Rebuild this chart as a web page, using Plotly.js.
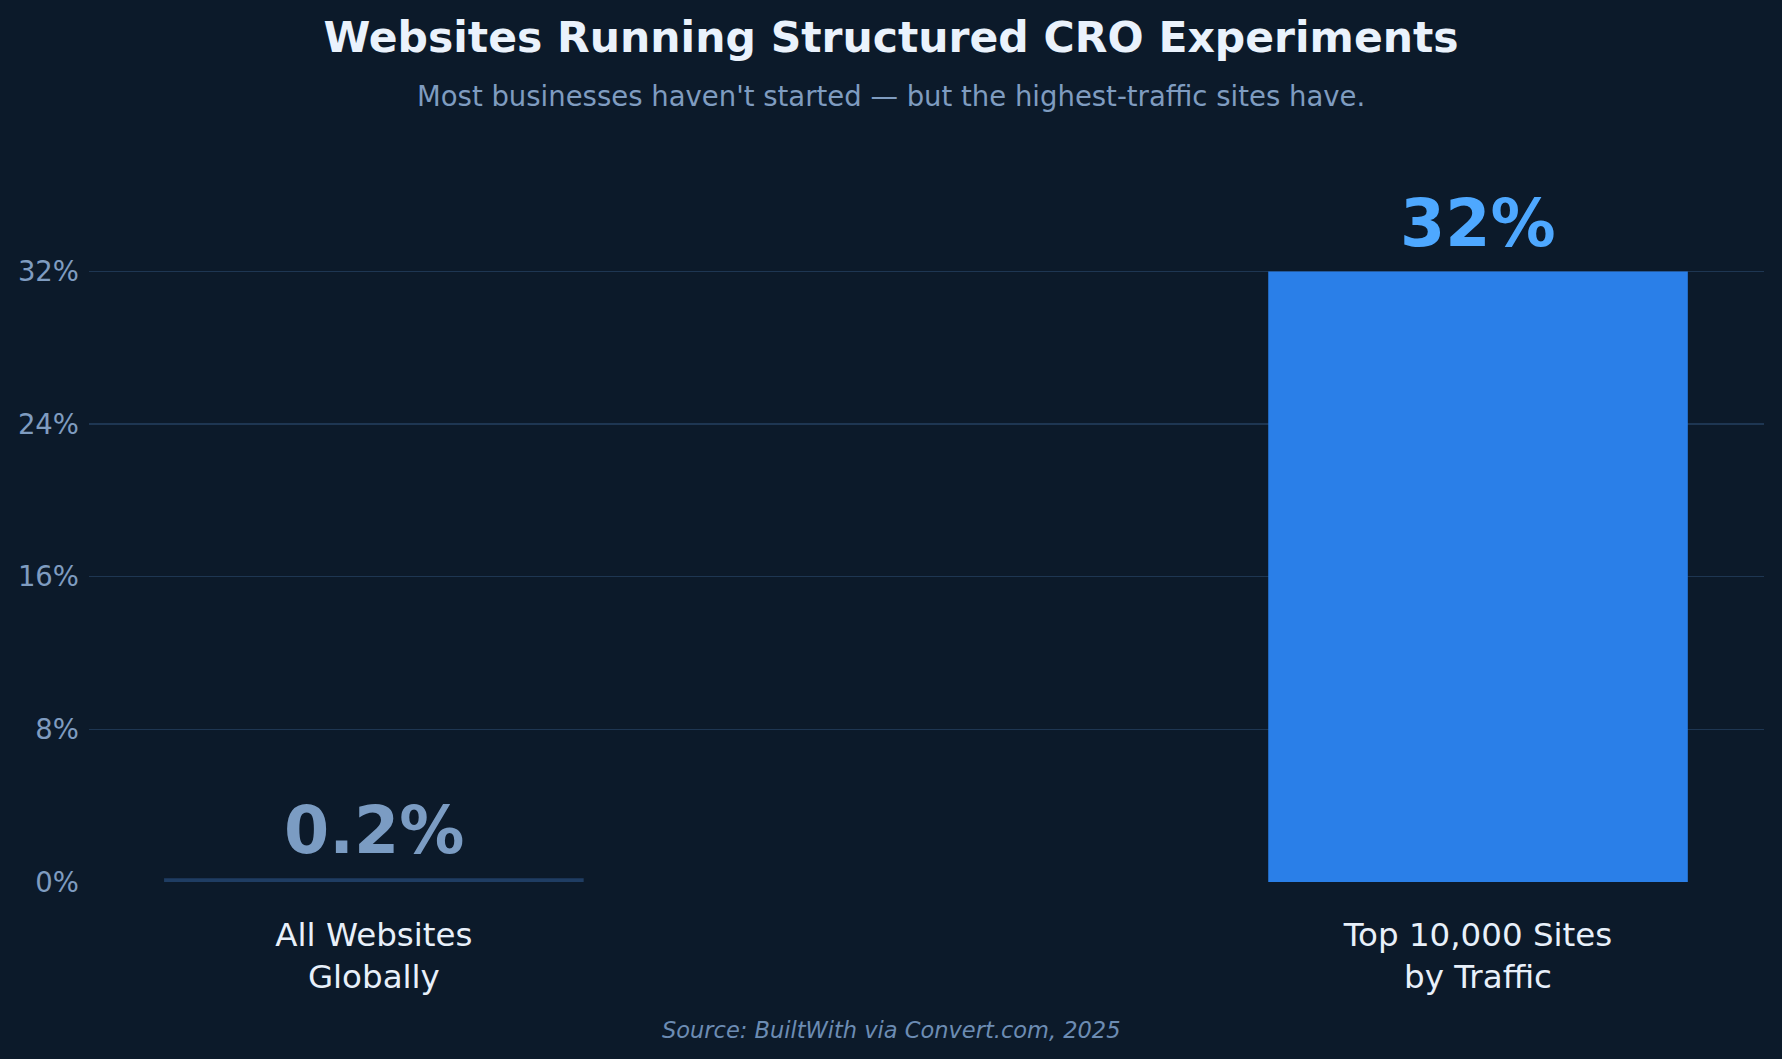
<!DOCTYPE html>
<html>
<head>
<meta charset="utf-8">
<script src="https://cdn.plot.ly/plotly-3.0.1.min.js"></script>
<style>
  html, body { margin: 0; padding: 0; background: #0c1a2a; }
  #chart { width: 1782px; height: 1059px; }
</style>
</head>
<body>
<div id="chart"></div>
<script>
// data
var categories = ["All Websites<br>Globally", "Top 10,000 Sites<br>by Traffic"];
var shares = [0.2, 32];
var valueLabels = ["0.2%", "32%"];
var barColors = ["#1f3d63", "#2a7fe8"];
var labelColors = ["#7b9cc3", "#4ea8ff"];
var tickVals = [0, 8, 16, 24, 32];
var tickText = ["0%", "8%", "16%", "24%", "32%"];
var gridVals = [8, 16, 24, 32];

var bg = "#0c1a2a";
var font = "DejaVu Sans, sans-serif";

var xs = [0, 1];

var bars = {
  type: "bar",
  x: xs,
  y: shares,
  width: 0.38,
  marker: { color: barColors, line: { width: 0 } },
  hoverinfo: "skip"
};

// grid only on the inner ticks (no line at 0)
var gridTrace = {
  type: "scatter",
  x: [0],
  y: [0],
  yaxis: "y2",
  mode: "markers",
  marker: { opacity: 0 },
  hoverinfo: "skip",
  showlegend: false
};

var annotations = [];
for (var i = 0; i < xs.length; i++) {
  annotations.push({
    x: xs[i],
    y: shares[i],
    xref: "x",
    yref: "y",
    text: "<b>" + valueLabels[i] + "</b>",
    showarrow: false,
    yanchor: "bottom",
    yshift: 8,
    font: { family: font, size: 65, color: labelColors[i] }
  });
}
annotations.push({
  xref: "paper", yref: "paper", x: 0.4789, y: 1.0848,
  text: "Most businesses haven't started \u2014 but the highest-traffic sites have.",
  showarrow: false, xanchor: "center", yanchor: "middle",
  font: { family: font, size: 27.5, color: "#7f9cc0" }
});
annotations.push({
  xref: "paper", yref: "paper", x: 0.4789, y: -0.2041,
  text: "<i>Source: BuiltWith via Convert.com, 2025</i>",
  showarrow: false, xanchor: "center", yanchor: "middle",
  font: { family: font, size: 22.5, color: "#6c8cb3" }
});

var layout = {
  width: 1782,
  height: 1059,
  paper_bgcolor: bg,
  plot_bgcolor: bg,
  margin: { l: 89, r: 18, t: 157, b: 177 },
  showlegend: false,
  title: {
    text: "<b>Websites Running Structured CRO Experiments</b>",
    x: 0.5, xref: "container", xanchor: "center",
    y: 1 - 37.5 / 1059, yref: "container", yanchor: "middle",
    font: { family: font, size: 42.5, color: "#eaf2fc" }
  },
  xaxis: {
    range: [-0.258, 1.259],
    tickvals: xs,
    ticktext: categories,
    showgrid: false,
    zeroline: false,
    showline: false,
    ticks: "",
    ticklabelstandoff: 30,
    tickfont: { family: font, size: 32.5, color: "#e8f0fa" }
  },
  yaxis: {
    range: [0, 38],
    tickvals: tickVals,
    ticktext: tickText,
    showgrid: false,
    zeroline: false,
    showline: false,
    ticks: "",
    ticklabelstandoff: 9,
    tickfont: { family: font, size: 27.5, color: "#7f9cc0" }
  },
  yaxis2: {
    overlaying: "y",
    matches: "y",
    range: [0, 38],
    tickvals: gridVals,
    showticklabels: false,
    showgrid: true,
    gridcolor: "#1e3652",
    gridwidth: 1.5,
    zeroline: false,
    layer: "below traces"
  },
  annotations: annotations
};

Plotly.newPlot("chart", [gridTrace, bars], layout, { displayModeBar: false, staticPlot: true });
</script>
</body>
</html>
